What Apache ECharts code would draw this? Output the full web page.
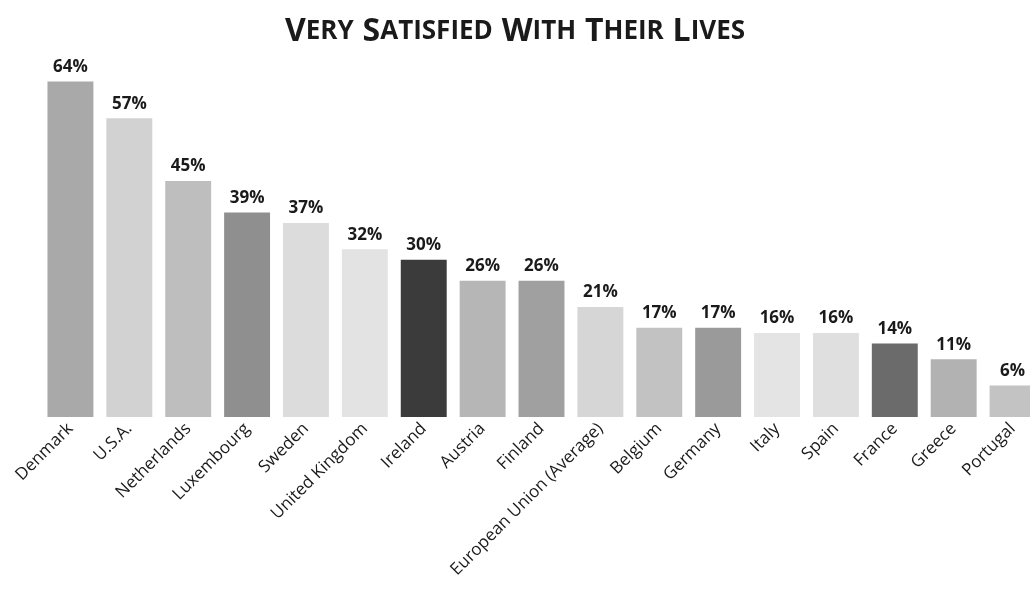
<!DOCTYPE html>
<html>
<head>
<meta charset="utf-8">
<script src="https://cdn.jsdelivr.net/npm/echarts@6/dist/echarts.min.js"></script>
<style>html,body{margin:0;padding:0;background:#fff;}#c{width:1030px;height:606px;}</style>
</head>
<body>
<div id="c"></div>
<script>
const countries = ["Denmark","U.S.A.","Netherlands","Luxembourg","Sweden","United Kingdom","Ireland","Austria","Finland","European Union (Average)","Belgium","Germany","Italy","Spain","France","Greece","Portugal"];
const satisfied = [64,57,45,39,37,32,30,26,26,21,17,17,16,16,14,11,6];
const barColors = ["#a9a9a9","#d2d2d2","#bebebe","#8f8f8f","#dcdcdc","#e3e3e3","#3b3b3b","#b6b6b6","#a0a0a0","#d6d6d6","#c2c2c2","#9a9a9a","#e4e4e4","#dfdfdf","#6b6b6b","#b2b2b2","#c3c3c3"];
const titleText = "Very Satisfied with Their Lives";

const chart = echarts.init(document.getElementById('c'), null, {renderer:'canvas'});
function smallCaps(t){
  return t.split(' ').map(w => '{b|' + w[0].toUpperCase() + '}{s|' + w.slice(1).toUpperCase() + '}').join('{w| }');
}
chart.setOption({
  animation:false,
  backgroundColor:'#ffffff',
  title:{
    text: smallCaps(titleText),
    left: 'center', top: 10,
    textStyle:{
      rich:{
        b:{fontFamily:'Open Sans', fontWeight:'bold', fontSize:32, color:'#1a1a1a'},
        s:{fontFamily:'Open Sans', fontWeight:'bold', fontSize:26, color:'#1a1a1a'},
        w:{fontFamily:'Open Sans', fontWeight:'bold', fontSize:34, color:'#1a1a1a'}
      }
    }
  },
  grid:{left:41, top:50, width:1001, height:367, containLabel:false, outerBoundsMode:'none'},
  xAxis:{
    type:'category', data:countries,
    axisLine:{show:false}, axisTick:{show:false},
    axisLabel:{rotate:45, interval:0, fontFamily:'Open Sans', fontSize:17, color:'#1a1a1a', margin:9}
  },
  yAxis:{type:'value', min:0, max:70, show:false, splitLine:{show:false}},
  series:[{
    type:'bar', data:satisfied.map((v,i)=>({value:v, itemStyle:{color:barColors[i]}})),
    barCategoryGap:'22%',
    label:{show:true, position:'top', distance:6, formatter:'{c}%', fontFamily:'Open Sans', fontWeight:'bold', fontSize:17, color:'#1a1a1a'}
  }]
});
</script>
</body>
</html>
